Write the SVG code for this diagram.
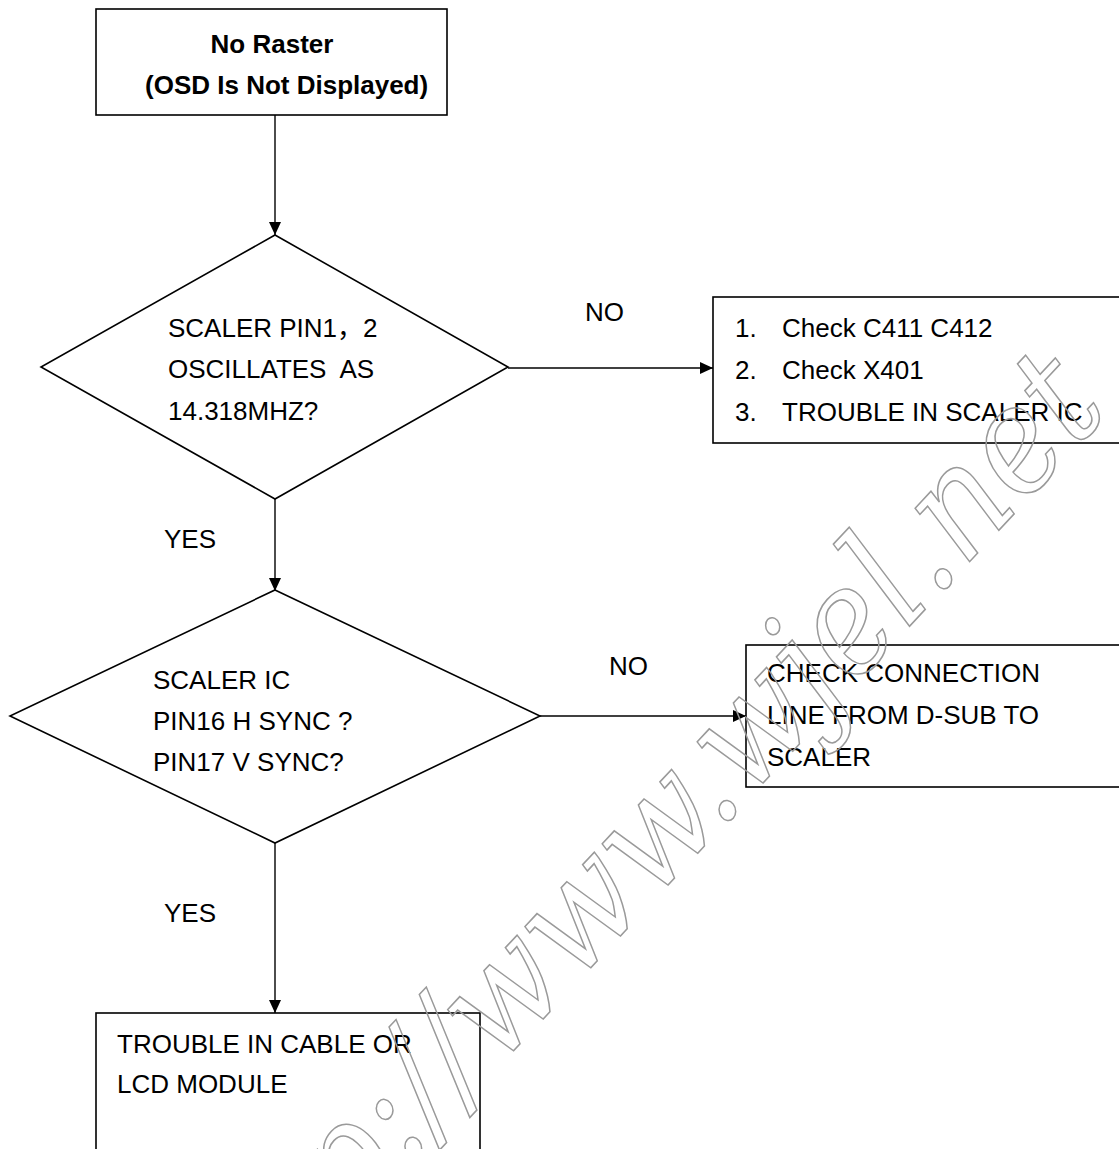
<svg xmlns="http://www.w3.org/2000/svg" width="1119" height="1149" viewBox="0 0 1119 1149">
<defs>
<style>
.t{font-family:"Liberation Sans","Noto Sans CJK SC",sans-serif;font-size:26px;fill:#000}
.b{font-weight:bold}
.shape{fill:#fff;stroke:#000;stroke-width:1.6}
.conn{stroke:#000;stroke-width:1.4;fill:none}
.wm{font-family:"DejaVu Serif",serif;font-style:italic;font-size:140px;fill:none;stroke:#9a9a9a;stroke-width:1.5}
</style>
<marker id="ah" viewBox="0 0 13 12" refX="13" refY="6" markerWidth="13" markerHeight="12" markerUnits="userSpaceOnUse" orient="auto">
<path d="M0,0 L13,6 L0,12 Z" fill="#000"/>
</marker>
</defs>
<rect width="1119" height="1149" fill="#fff"/>

<g id="connectors">
<line class="conn" x1="275" y1="115" x2="275" y2="235" marker-end="url(#ah)"/>
<line class="conn" x1="508" y1="368" x2="713" y2="368" marker-end="url(#ah)"/>
<line class="conn" x1="275" y1="499" x2="275" y2="591" marker-end="url(#ah)"/>
<line class="conn" x1="540" y1="716" x2="746" y2="716" marker-end="url(#ah)"/>
<line class="conn" x1="275" y1="843" x2="275" y2="1013" marker-end="url(#ah)"/>
<text class="t" x="585" y="321">NO</text>
<text class="t" x="164" y="548">YES</text>
<text class="t" x="609" y="675">NO</text>
<text class="t" x="164" y="922">YES</text>
</g>

<g id="start">
<rect class="shape" x="96" y="9" width="351" height="106"/>
<text class="t b" x="272" y="53" text-anchor="middle">No Raster</text>
<text class="t b" x="145" y="94">(OSD Is Not Displayed)</text>
</g>

<g id="decision1">
<polygon class="shape" points="275,235 508,367 275,499 41,367"/>
<text class="t" x="168" y="337">SCALER PIN1，2</text>
<text class="t" x="168" y="378" xml:space="preserve">OSCILLATES  AS</text>
<text class="t" x="168" y="420">14.318MHZ?</text>
</g>

<g id="fix1">
<rect class="shape" x="713" y="297" width="420" height="146"/>
<text class="t" x="735" y="337">1.</text>
<text class="t" x="782" y="337">Check C411 C412</text>
<text class="t" x="735" y="379">2.</text>
<text class="t" x="782" y="379">Check X401</text>
<text class="t" x="735" y="421">3.</text>
<text class="t" x="782" y="421">TROUBLE IN SCALER IC</text>
</g>

<g id="decision2">
<polygon class="shape" points="275,590 540,716 275,843 10,716"/>
<text class="t" x="153" y="689">SCALER IC</text>
<text class="t" x="153" y="730">PIN16 H SYNC ?</text>
<text class="t" x="153" y="771">PIN17 V SYNC?</text>
</g>

<g id="fix2">
<rect class="shape" x="746" y="645" width="390" height="142"/>
<text class="t" x="767" y="682">CHECK CONNECTION</text>
<text class="t" x="767" y="724">LINE FROM D-SUB TO</text>
<text class="t" x="767" y="766">SCALER</text>
</g>

<g id="result">
<rect class="shape" x="96" y="1013" width="384" height="160"/>
<text class="t" x="117" y="1053">TROUBLE IN CABLE OR</text>
<text class="t" x="117" y="1093">LCD MODULE</text>
</g>

<g id="watermark">
<text class="wm" transform="translate(1111,410) rotate(-47) scale(0.945,1.05)" text-anchor="end">http://www.wjel.net</text>
</g>
</svg>
